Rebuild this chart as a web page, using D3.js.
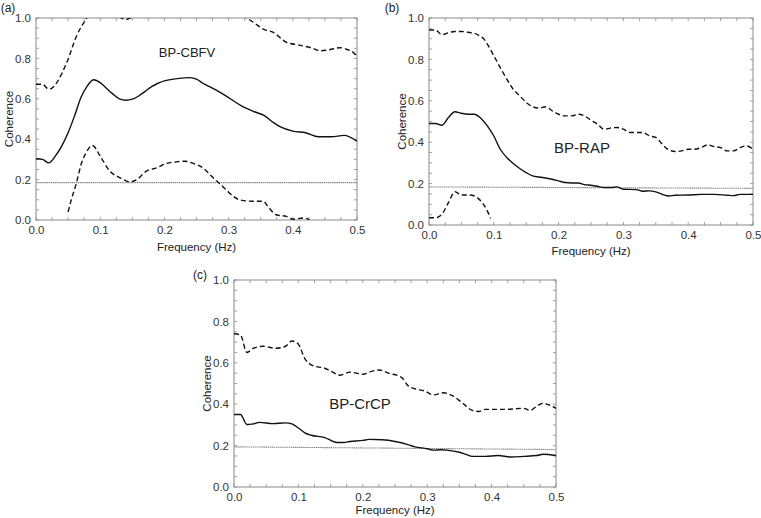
<!DOCTYPE html>
<html>
<head>
<meta charset="utf-8">
<script src="https://cdn.jsdelivr.net/npm/d3@7"></script>
<style>
html,body{margin:0;padding:0;background:#fff;}
svg{display:block;font-family:"Liberation Sans",Arial,Helvetica,sans-serif;}
</style>
</head>
<body>
<svg id="chart" width="761" height="518"></svg>
<script>
// ---------- DATA ----------
const xTicks = [0, 0.1, 0.2, 0.3, 0.4, 0.5];
const yTicks = [0, 0.2, 0.4, 0.6, 0.8, 1.0];

// Panel (a) BP-CBFV
const aFreq  = [0,0.01,0.02,0.03,0.04,0.05,0.06,0.07,0.08,0.09,0.10,0.11,0.12,0.13,0.14,0.15,0.16,0.17,0.18,0.19,0.20,0.22,0.24,0.25,0.26,0.28,0.30,0.32,0.34,0.355,0.37,0.38,0.40,0.42,0.44,0.46,0.48,0.50];
const aCoh   = [0.303,0.30,0.283,0.316,0.366,0.432,0.515,0.606,0.664,0.694,0.68,0.651,0.623,0.60,0.593,0.598,0.614,0.637,0.66,0.677,0.689,0.70,0.705,0.697,0.677,0.644,0.606,0.565,0.536,0.518,0.482,0.462,0.44,0.432,0.412,0.412,0.419,0.39];
const aUpFreq = [0,0.01,0.02,0.048,0.063,0.078,0.09,0.11,0.13,0.137,0.14,0.143,0.15,0.17,0.20,0.25,0.30,0.328,0.338,0.354,0.369,0.39,0.41,0.431,0.442,0.457,0.473,0.483,0.494,0.50];
const aUp     = [0.672,0.672,0.647,0.78,0.91,0.995,1.05,1.03,1.005,0.995,0.993,0.995,1.005,1.03,1.06,1.07,1.03,1.0,0.98,0.945,0.93,0.88,0.866,0.85,0.838,0.843,0.853,0.846,0.83,0.81];
const aLoFreq = [0.05,0.055,0.063,0.071,0.078,0.088,0.10,0.115,0.131,0.146,0.157,0.172,0.188,0.203,0.219,0.232,0.245,0.26,0.276,0.286,0.297,0.307,0.317,0.338,0.354,0.361,0.374,0.39,0.40,0.416,0.426];
const aLo     = [0.04,0.10,0.184,0.283,0.333,0.369,0.316,0.242,0.209,0.189,0.20,0.242,0.258,0.28,0.288,0.291,0.28,0.258,0.209,0.18,0.147,0.118,0.10,0.093,0.093,0.068,0.026,0.018,0.004,0.01,0.002];
const aThresh = [0.185, 0.185];

// Panel (b) BP-RAP
const bFreq = [0,0.01,0.02,0.03,0.04,0.05,0.06,0.07,0.08,0.09,0.10,0.11,0.12,0.13,0.14,0.15,0.16,0.17,0.18,0.19,0.20,0.21,0.22,0.23,0.24,0.25,0.26,0.27,0.28,0.29,0.30,0.32,0.33,0.34,0.35,0.36,0.37,0.38,0.40,0.42,0.44,0.46,0.47,0.48,0.50];
const bCoh  = [0.49,0.49,0.482,0.519,0.547,0.54,0.535,0.535,0.516,0.479,0.43,0.366,0.326,0.297,0.273,0.253,0.237,0.232,0.227,0.221,0.213,0.205,0.203,0.203,0.195,0.192,0.187,0.181,0.181,0.184,0.173,0.171,0.163,0.165,0.16,0.148,0.14,0.144,0.145,0.148,0.148,0.144,0.142,0.148,0.148];
const bUpFreq = [0,0.01,0.02,0.03,0.04,0.05,0.06,0.07,0.08,0.085,0.09,0.10,0.11,0.12,0.13,0.14,0.15,0.16,0.17,0.18,0.19,0.20,0.21,0.22,0.23,0.24,0.25,0.26,0.27,0.28,0.29,0.30,0.31,0.32,0.33,0.34,0.35,0.36,0.37,0.38,0.39,0.40,0.41,0.42,0.43,0.44,0.45,0.46,0.47,0.48,0.49,0.50];
const bUp     = [0.942,0.942,0.919,0.929,0.935,0.935,0.931,0.926,0.91,0.898,0.874,0.818,0.76,0.705,0.656,0.624,0.592,0.571,0.565,0.571,0.552,0.535,0.527,0.527,0.535,0.527,0.506,0.487,0.463,0.468,0.471,0.463,0.447,0.447,0.447,0.431,0.423,0.39,0.363,0.355,0.358,0.366,0.366,0.374,0.387,0.379,0.374,0.358,0.358,0.374,0.382,0.366];
const bLoFreq = [0,0.01,0.02,0.03,0.04,0.05,0.06,0.07,0.08,0.09,0.095];
const bLo     = [0.035,0.035,0.052,0.108,0.161,0.145,0.145,0.14,0.116,0.068,0.032];
const bThresh = [0.184, 0.177];

// Panel (c) BP-CrCP
const cFreq = [0,0.01,0.02,0.03,0.04,0.06,0.08,0.09,0.10,0.11,0.12,0.14,0.16,0.17,0.18,0.20,0.21,0.23,0.25,0.27,0.28,0.30,0.31,0.32,0.33,0.35,0.36,0.37,0.39,0.41,0.43,0.45,0.47,0.48,0.50];
const cCoh  = [0.35,0.35,0.302,0.305,0.312,0.306,0.31,0.305,0.285,0.262,0.25,0.24,0.215,0.215,0.22,0.225,0.23,0.228,0.22,0.205,0.195,0.185,0.178,0.18,0.178,0.168,0.158,0.148,0.148,0.152,0.145,0.148,0.152,0.158,0.152];
const cUpFreq = [0,0.01,0.02,0.03,0.045,0.065,0.08,0.09,0.10,0.11,0.12,0.13,0.14,0.15,0.165,0.18,0.20,0.215,0.225,0.24,0.26,0.27,0.28,0.295,0.31,0.325,0.34,0.355,0.37,0.38,0.39,0.42,0.45,0.46,0.47,0.48,0.49,0.50];
const cUp     = [0.74,0.735,0.65,0.67,0.68,0.67,0.68,0.705,0.69,0.62,0.59,0.58,0.575,0.56,0.54,0.555,0.545,0.56,0.565,0.55,0.53,0.49,0.475,0.465,0.445,0.455,0.44,0.405,0.37,0.365,0.375,0.375,0.38,0.37,0.39,0.405,0.395,0.38];
const cThresh = [0.194, 0.181];

// ---------- DRAWING ----------
const svg = d3.select("#chart");

const panels = [
  {id:"a", label:"(a)", name:"BP-CBFV", left:36, right:357, top:18, bottom:220,
   lx:8, ly:12, nameX:187, nameY:57, nameSize:13, titleY:251,
   series:[{x:aFreq,y:aCoh,dash:null},{x:aUpFreq,y:aUp,dash:"5,3"},{x:aLoFreq,y:aLo,dash:"5,3"}], thresh:aThresh},
  {id:"b", label:"(b)", name:"BP-RAP", left:429, right:753, top:18, bottom:225,
   lx:392, ly:12, nameX:582, nameY:153, nameSize:15, titleY:255,
   series:[{x:bFreq,y:bCoh,dash:null},{x:bUpFreq,y:bUp,dash:"5,3"},{x:bLoFreq,y:bLo,dash:"5,3"}], thresh:bThresh},
  {id:"c", label:"(c)", name:"BP-CrCP", left:234, right:556, top:280, bottom:487,
   lx:200, ly:279, nameX:360, nameY:409, nameSize:15, titleY:514,
   series:[{x:cFreq,y:cCoh,dash:null},{x:cUpFreq,y:cUp,dash:"5,3"}], thresh:cThresh}
];

const frameColor = "#8a8a8a";
const textColor = "#333";

panels.forEach(p => {
  const x = d3.scaleLinear().domain([0,0.5]).range([p.left,p.right]);
  const y = d3.scaleLinear().domain([0,1]).range([p.bottom,p.top]);
  const g = svg.append("g");

  g.append("clipPath").attr("id","clip-"+p.id)
    .append("rect").attr("x",p.left).attr("y",p.top)
    .attr("width",p.right-p.left).attr("height",p.bottom-p.top);

  const xAxis = g.append("g").attr("transform",`translate(0,${p.bottom})`)
    .call(d3.axisBottom(x).tickValues(xTicks).tickFormat(d3.format(".1f")).tickSize(0).tickPadding(6));
  const yAxis = g.append("g").attr("transform",`translate(${p.left},0)`)
    .call(d3.axisLeft(y).tickValues(yTicks).tickFormat(d3.format(".1f")).tickSize(0).tickPadding(5));
  [xAxis,yAxis].forEach(ax => {
    ax.select(".domain").remove();
    ax.selectAll("text").attr("fill",textColor).style("font-size","11.5px")
      .style("font-family","'Liberation Sans',Arial,sans-serif");
  });

  const xMinor = d3.range(0, 0.5001, 0.025);
  const yMinor = d3.range(0, 1.0001, 0.05);
  const tk = g.append("g").attr("stroke",frameColor).attr("stroke-width",0.8);
  xMinor.forEach(v => {
    tk.append("line").attr("x1",x(v)).attr("x2",x(v)).attr("y1",p.bottom).attr("y2",p.bottom-3);
    tk.append("line").attr("x1",x(v)).attr("x2",x(v)).attr("y1",p.top).attr("y2",p.top+3);
  });
  yMinor.forEach(v => {
    tk.append("line").attr("x1",p.left).attr("x2",p.left+3).attr("y1",y(v)).attr("y2",y(v));
    tk.append("line").attr("x1",p.right).attr("x2",p.right-3).attr("y1",y(v)).attr("y2",y(v));
  });

  g.append("rect").attr("x",p.left).attr("y",p.top)
    .attr("width",p.right-p.left).attr("height",p.bottom-p.top)
    .attr("fill","none").attr("stroke",frameColor).attr("stroke-width",1);

  g.append("line").attr("x1",x(0)).attr("x2",x(0.5))
    .attr("y1",y(p.thresh[0])).attr("y2",y(p.thresh[1]))
    .attr("stroke","#888").attr("stroke-width",1.1).attr("stroke-dasharray","1.5,0.6");

  const line = d3.line().x(d=>x(d[0])).y(d=>y(d[1])).curve(d3.curveMonotoneX);
  p.series.forEach(s => {
    const pts = s.x.map((v,i)=>[v,s.y[i]]);
    g.append("path").datum(pts).attr("d",line)
      .attr("clip-path",`url(#clip-${p.id})`)
      .attr("fill","none").attr("stroke","#111").attr("stroke-width",1.4)
      .attr("stroke-dasharray",s.dash);
  });

  g.append("text").attr("x",p.nameX).attr("y",p.nameY).attr("text-anchor","middle")
    .attr("fill","#222").style("font-size",p.nameSize+"px").text(p.name);

  g.append("text").attr("x",p.lx).attr("y",p.ly).attr("text-anchor","middle")
    .attr("fill","#222").style("font-size","12px").text(p.label);

  g.append("text").attr("x",(p.left+p.right)/2).attr("y",p.titleY).attr("text-anchor","middle")
    .attr("fill","#222").style("font-size","11.5px").text("Frequency (Hz)");
  g.append("text").attr("transform",`translate(${p.left-23},${(p.top+p.bottom)/2}) rotate(-90)`)
    .attr("text-anchor","middle").attr("fill","#222").style("font-size","11.5px").text("Coherence");
});
</script>
</body>
</html>
